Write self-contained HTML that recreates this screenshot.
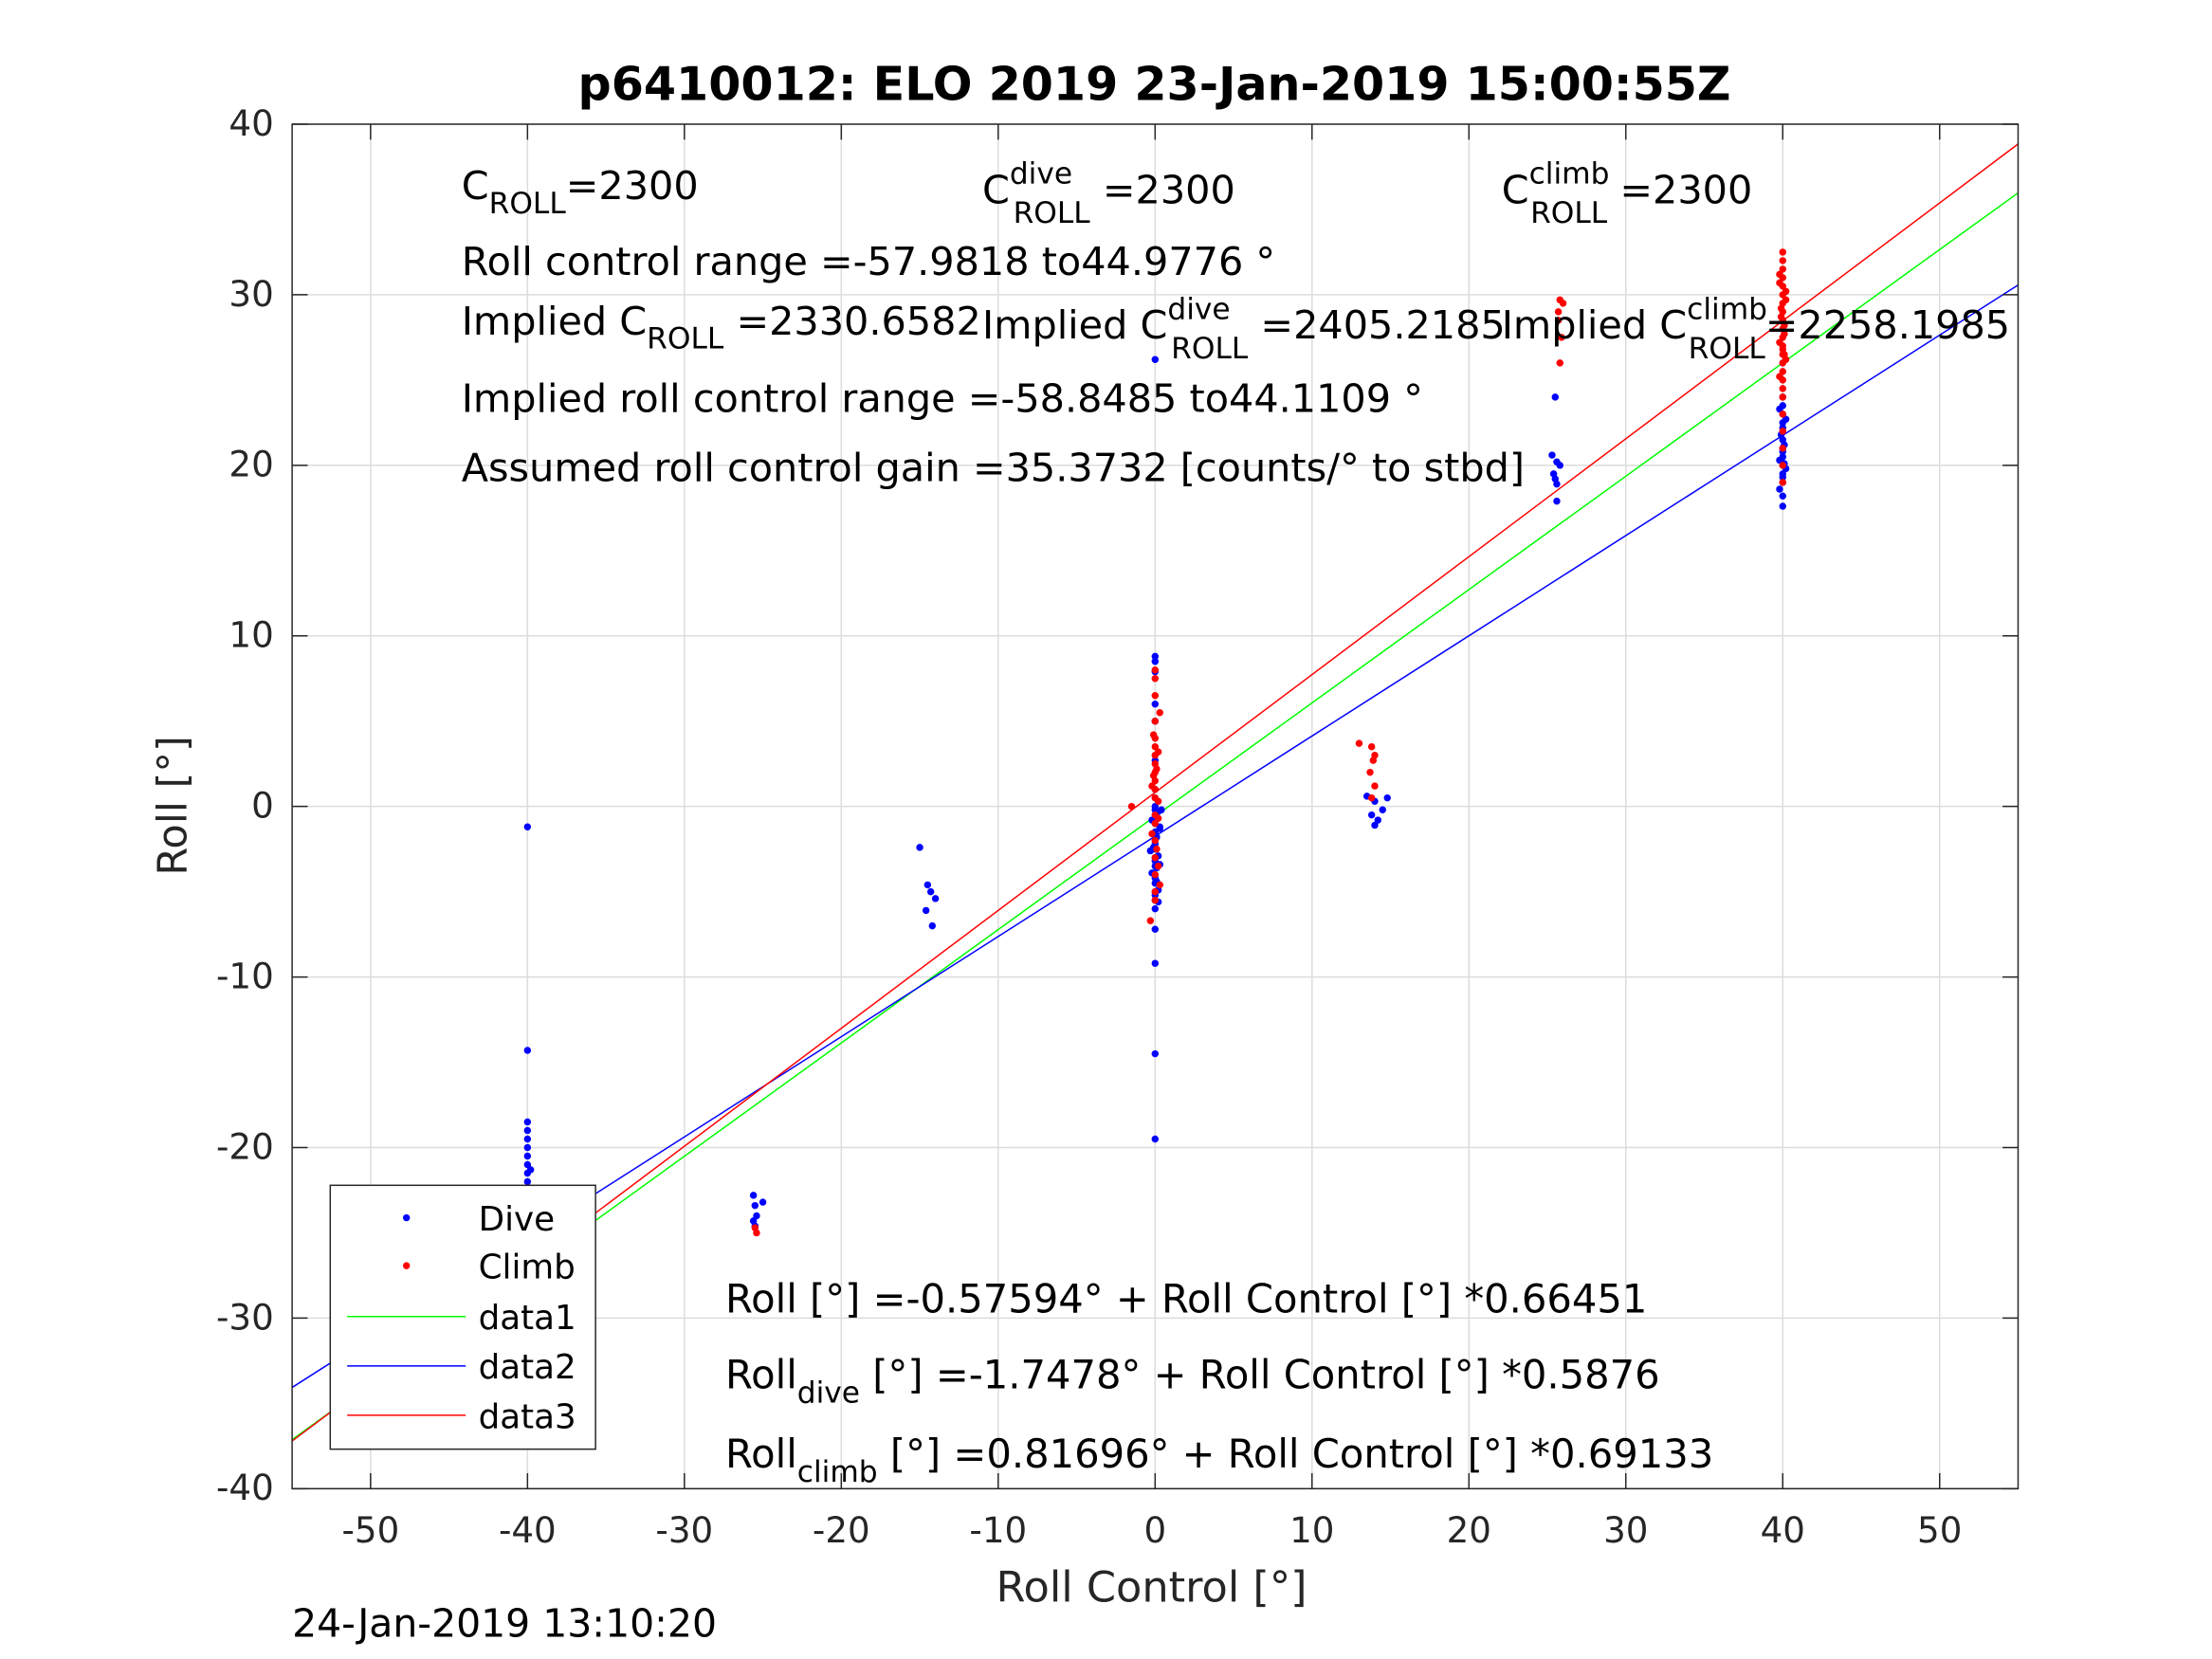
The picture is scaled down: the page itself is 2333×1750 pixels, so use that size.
<!DOCTYPE html>
<html><head><meta charset="utf-8"><style>
html,body{margin:0;padding:0;background:#fff;}
svg{display:block;font-family:"DejaVu Sans","Liberation Sans",sans-serif;}
</style></head><body>
<svg id="chart" width="2333" height="1750" viewBox="0 0 1567.4 1175.7" xmlns="http://www.w3.org/2000/svg">
<rect width="1567.4" height="1175.7" fill="#fff"/>
<g id="grid"></g>
<g id="plot"></g>
<rect x="207" y="88" width="1223" height="967" fill="none" stroke="#262626" stroke-width="1"/>
<g id="ticks"></g>
<text x="818" y="71" text-anchor="middle" font-size="33" font-weight="bold" fill="#000">p6410012: ELO 2019 23-Jan-2019 15:00:55Z</text>
<text x="816" y="1135" text-anchor="middle" font-size="30" fill="#262626">Roll Control [°]</text>
<text transform="translate(132,571) rotate(-90)" text-anchor="middle" font-size="29" fill="#262626">Roll [°]</text>
<text x="207" y="1160" font-size="27.5" fill="#000">24-Jan-2019 13:10:20</text>
<g font-size="27.8" fill="#000">
<text x="327" y="141">C<tspan font-size="21" dy="10">ROLL</tspan><tspan dy="-10">=2300</tspan></text>
<text x="696" y="144">C<tspan font-size="21" dy="-14">dive</tspan><tspan font-size="21" dx="-42" dy="28">ROLL</tspan><tspan dy="-14"> =2300</tspan></text>
<text x="1064" y="144">C<tspan font-size="21" dy="-14">climb</tspan><tspan font-size="21" dx="-56" dy="28">ROLL</tspan><tspan dy="-14"> =2300</tspan></text>
<text x="327" y="195">Roll control range =-57.9818 to44.9776 °</text>
<text x="327" y="237">Implied C<tspan font-size="21" dy="10">ROLL</tspan><tspan dy="-10"> =2330.6582</tspan></text>
<text x="696" y="240">Implied C<tspan font-size="21" dy="-14">dive</tspan><tspan font-size="21" dx="-42" dy="28">ROLL</tspan><tspan dy="-14"> =2405.2185</tspan></text>
<text x="1064" y="240">Implied C<tspan font-size="21" dy="-14">climb</tspan><tspan font-size="21" dx="-56" dy="28">ROLL</tspan><tspan dy="-14">=2258.1985</tspan></text>
<text x="327" y="292">Implied roll control range =-58.8485 to44.1109 °</text>
<text x="327" y="341">Assumed roll control gain =35.3732 [counts/° to stbd]</text>
<text x="514" y="930" font-size="28">Roll [°] =-0.57594° + Roll Control [°] *0.66451</text>
<text x="514" y="984" font-size="28">Roll<tspan font-size="21" dy="10">dive</tspan><tspan dy="-10"> [°] =-1.7478° + Roll Control [°] *0.5876</tspan></text>
<text x="514" y="1040" font-size="28">Roll<tspan font-size="21" dy="10">climb</tspan><tspan dy="-10"> [°] =0.81696° + Roll Control [°] *0.69133</tspan></text>
</g>
<g>
<rect x="234" y="840" width="188" height="187" fill="#fff" stroke="#262626" stroke-width="1"/>
<circle cx="288" cy="863" r="2.5" fill="#0000ff"/>
<text x="339" y="872" font-size="24">Dive</text>
<circle cx="288" cy="897" r="2.5" fill="#ff0000"/>
<text x="339" y="906" font-size="24">Climb</text>
<line x1="246" y1="933" x2="330" y2="933" stroke="#00ff00"/>
<text x="339" y="942" font-size="24">data1</text>
<line x1="246" y1="968" x2="330" y2="968" stroke="#0000ff"/>
<text x="339" y="977" font-size="24">data2</text>
<line x1="246" y1="1003" x2="330" y2="1003" stroke="#ff0000"/>
<text x="339" y="1012" font-size="24">data3</text>
</g>
</svg>
<script>
const xTicks = [-50,-40,-30,-20,-10,0,10,20,30,40,50];
const yTicks = [-40,-30,-20,-10,0,10,20,30,40];
const fitNames = ['data1','data2','data3'];
const fitIntercepts = [-0.57594,-1.7478,0.81696];
const fitSlopes = [0.66451,0.5876,0.69133];
const fitColors = ['#00ff00','#0000ff','#ff0000'];
const diveX = [-40,-40,-40,-40,-40,-40,-40,-40,-40,-40,-40,-40,-40,-40,-40,-40,-40,-40,-40,-40,-40,-40,-40,-40,-40,-40,-40,-40,-39.8,-40.2,-39.9,-40.1,-39.8,-40.2,
 -25.6,-25.5,-25.4,-25.6,-25.5,-25,
 -15,-14.5,-14.3,-14,-14.6,-14.2,
 0,0,0,0,0,0,0,0,0,0,0,0,0,0,0,0,0,0,0,0,0,0,0,0,0,0,0,0,0,0,0,
 0.2,-0.2,0.3,0.1,-0.1,0.2,0.3,-0.2,0.1,0.2,0.4,0.3,-0.3,0.1,0.2,
 13.5,14,14.5,13.8,14.2,14,14.8,
 25.5,25.3,25.6,25.8,25.4,25.5,25.6,25.6,
 40,40,40,40,40,40,40,40,40,40,40,40,40,40,40,40,39.8,40.2,39.8,40.1,39.9,40.2,39.8,40.1];
const diveY = [-1.2,-14.3,-18.5,-19,-19.5,-20,-20.5,-21,-21.5,-22,-22.5,-23,-23.5,-24,-24.5,-25,-25.5,-26,-26.5,-27,-27.5,-28,-29,-29.5,-30.5,-31,-32,-32.5,-23.2,-24.2,-25.2,-26.2,-21.3,-22.8,
 -22.8,-23.4,-24,-24.3,-24.6,-23.2,
 -2.4,-4.6,-5,-5.4,-6.1,-7,
 26.2,8.8,8.5,7.9,6,5,2.7,1,0.5,0,-0.5,-1,-1.5,-2,-2.5,-3,-3.5,-4,-4.5,-5,-5.5,-6,-7.2,-9.2,-14.5,-19.5,-0.2,-2.2,-3.2,-4.2,-5.2,
 -0.3,-0.8,-1.3,-1.8,-2.4,-2.9,-3.4,-3.9,-4.4,-4.9,-0.2,-1.2,-2.6,-3.6,-5.6,
 0.6,0.3,-0.2,-0.5,-0.8,-1.1,0.5,
 24,20.6,20.2,20,19.5,19.2,18.9,17.9,
 17.6,18.2,19,19.5,20,20.5,21,21.5,22,22.5,23,23.5,24,19.3,20.8,22.2,18.6,19.8,20.3,21.2,21.8,22.7,23.3,20.1];
const climbX = [-40,-40,-40,-40,-40,-25.5,-25.4,
 -1.5,0,0,0,0,0,0,0,0,0,0,0,0,0,0,0,0,0,0,0,-0.3,
 0.2,-0.2,0.1,0.2,-0.1,0.3,0.2,-0.2,0.1,0.2,0.3,-0.1,
 13,13.8,14,13.9,13.7,14,13.8,
 25.8,26,25.7,25.9,25.8,25.7,
 40,40,40,40,40,40,40,40,40,40,40,40,40,40,40,40,40,40,40,40,40,40,40,40,
 39.8,40.2,39.8,40.1,39.9,40.2,39.8,40.1,39.9,40.2,39.8,40.1];
const climbY = [-25.5,-26,-26.5,-27,-27.6,-24.7,-25,
 0,8,7.5,6.5,5,4,3.5,3,2.5,2,1.5,1,0.5,-0.5,-1,-2,-3,-4,-5,-5.5,-6.7,
 0.3,1.2,2.2,3.2,4.2,5.5,-0.7,-1.6,-2.5,-3.5,-4.6,1.8,
 3.7,3.5,3,2.7,2,1.2,0.5,
 29.7,29.5,28.5,27.5,26,29,
 19,20,21,22,23,24,25,25.5,26,26.5,27,27.5,28,28.5,29,29.5,30,30.5,31,31.5,32,32.5,24.5,26.8,
 25.2,26.2,27.2,28.2,29.2,30.2,31.2,27.7,28.7,29.7,30.7,26.5];
const X0=207,X1=1430,Y0=88,Y1=1055,XMIN=-55,XMAX=55,YMIN=-40,YMAX=40;
function sx(v){return X0+(v-XMIN)/(XMAX-XMIN)*(X1-X0);}
function sy(v){return Y1-(v-YMIN)/(YMAX-YMIN)*(Y1-Y0);}
const NS='http://www.w3.org/2000/svg';
function mk(tag,parent,attrs){const e=document.createElementNS(NS,tag);for(const k in attrs)e.setAttribute(k,attrs[k]);parent.appendChild(e);return e;}
const grid=document.getElementById('grid'),plot=document.getElementById('plot'),ticks=document.getElementById('ticks');
xTicks.forEach(t=>{
 const g=mk('line',grid,{x1:sx(t),x2:sx(t),y1:Y0,y2:Y1,stroke:'#dcdcdc','stroke-width':1});
 
 
 mk('line',ticks,{x1:sx(t),x2:sx(t),y1:Y1,y2:Y1-11,stroke:'#262626'});
 mk('line',ticks,{x1:sx(t),x2:sx(t),y1:Y0,y2:Y0+11,stroke:'#262626'});
 const l=mk('text',ticks,{x:sx(t),y:Y1+38,'text-anchor':'middle','font-size':25,fill:'#262626'});
 l.textContent=t;
 
 
});
yTicks.forEach(t=>{
 const g=mk('line',grid,{x1:X0,x2:X1,y1:sy(t),y2:sy(t),stroke:'#dcdcdc','stroke-width':1});
 
 
 mk('line',ticks,{x1:X0,x2:X0+11,y1:sy(t),y2:sy(t),stroke:'#262626'});
 mk('line',ticks,{x1:X1,x2:X1-11,y1:sy(t),y2:sy(t),stroke:'#262626'});
 const l=mk('text',ticks,{x:X0-13,y:sy(t)+8,'text-anchor':'end','font-size':25,fill:'#262626'});
 l.textContent=t;
 
 
});
fitNames.forEach((n,i)=>{
 const ln=mk('line',plot,{x1:sx(XMIN),y1:sy(fitIntercepts[i]+fitSlopes[i]*XMIN),x2:sx(XMAX),y2:sy(fitIntercepts[i]+fitSlopes[i]*XMAX),stroke:fitColors[i],'stroke-width':1});
 
 
});
diveX.forEach((x,i)=>{
 const c=mk('circle',plot,{cx:sx(x),cy:sy(diveY[i]),r:2.5,fill:'#0000ff'});
 
 
});
climbX.forEach((x,i)=>{
 const c=mk('circle',plot,{cx:sx(x),cy:sy(climbY[i]),r:2.5,fill:'#ff0000'});
 
 
});
</script>
</body></html>
